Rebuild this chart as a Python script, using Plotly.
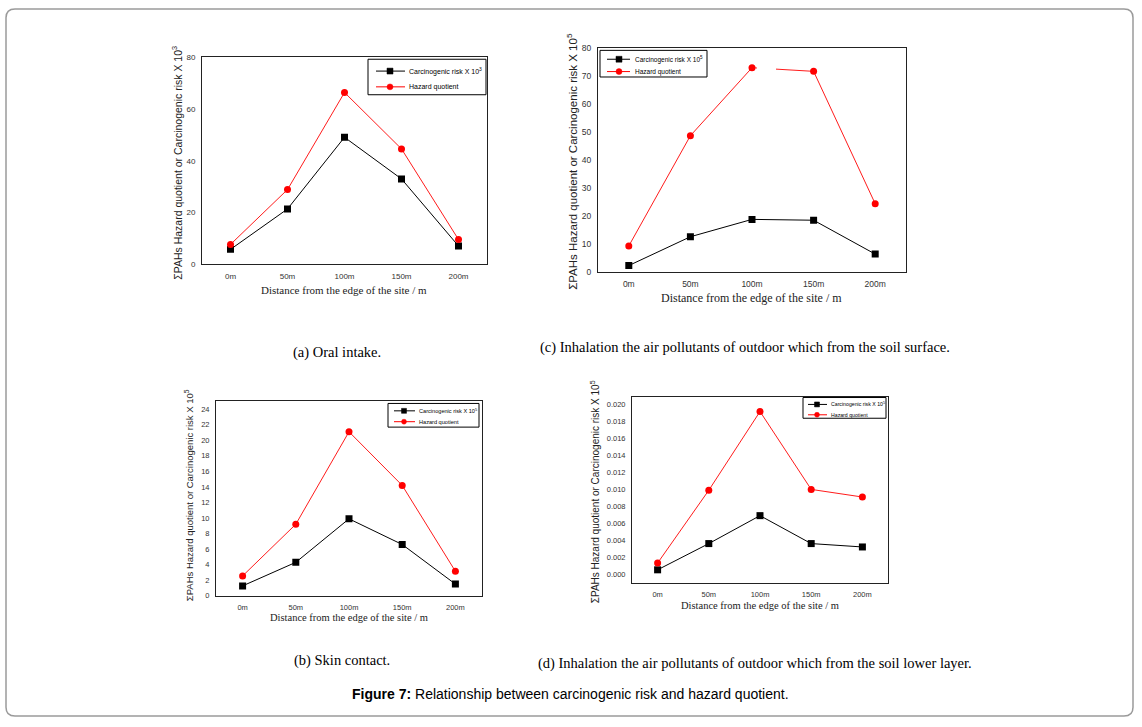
import plotly.graph_objects as go

W, H = 1142, 727

categories = ["0m", "50m", "100m", "150m", "200m"]

a_carc = [5.8, 21.4, 49.1, 33.0, 7.1]
a_hq = [7.7, 28.9, 66.4, 44.6, 9.6]
c_carc = [2.4, 12.7, 18.9, 18.6, 6.5]
c_hq = [9.4, 48.8, 73.1, 71.8, 24.5]
b_carc = [1.27, 4.3, 9.9, 6.6, 1.5]
b_hq = [2.55, 9.2, 21.1, 14.2, 3.15]
d_carc = [0.0005, 0.0036, 0.0069, 0.0036, 0.0032]
d_hq = [0.0013, 0.0099, 0.0192, 0.0100, 0.0091]

legend_a = ["Carcinogenic risk X 10<sup>3</sup>", "Hazard quotient"]
legend_c = ["Carcinogenic risk X 10<sup>5</sup>", "Hazard quotient"]
legend_b = ["Carcinogenic risk X 10<sup>5</sup>", "Hazard quotient"]
legend_d = ["Carcinogenic risk X 10<sup>5</sup>", "Hazard quotient"]

ytitle_a = "ΣPAHs Hazard quotient or Carcinogenic risk X 10<sup>3</sup>"
ytitle_c = "ΣPAHs Hazard quotient or Carcinogenic risk X 10<sup>5</sup>"
ytitle_b = "ΣPAHs Hazard quotient or Carcinogenic risk X 10<sup>5</sup>"
ytitle_d = "ΣPAHs Hazard quotient or Carcinogenic risk X 10<sup>5</sup>"
xtitle = "Distance from the edge of the site / m"

captions = [
    "(a) Oral intake.",
    "(c) Inhalation the air pollutants of outdoor which from the soil surface.",
    "(b) Skin contact.",
    "(d) Inhalation the air pollutants of outdoor which from the soil lower layer.",
]
fig_caption = "<b>Figure 7:</b> Relationship between carcinogenic risk and hazard quotient."

BLACK = "#000000"
RED = "#ff0000"


def px(x):
    return x / W


def py(y):
    return 1 - y / H


SANS = "Liberation Sans, Arial, sans-serif"
SERIF = "Liberation Serif, Times New Roman, serif"

fig = go.Figure()

# suffix, plot box px (x0,x1,y0,y1), series, yrange, dtick, tickformat, tick font size
panels = [
    ("", (202, 487, 53, 263), a_carc, a_hq, [0, 80], 20, None, 8),
    ("2", (598, 906, 44, 271), c_carc, c_hq, [0, 80], 10, None, 8.5),
    ("3", (216, 482, 402, 599), b_carc, b_hq, [0, 25], 2, None, 7.5),
    ("4", (632, 888, 397, 586), d_carc, d_hq, [-0.00105, 0.02097], 0.002, ".3f", 7.5),
]
legend_names = [legend_a, legend_c, legend_b, legend_d]

for (suf, (x0, x1, y0, y1), carc, hq, yr, dt, tf, tfs), names in zip(panels, legend_names):
    xa = "x" + suf
    ya = "y" + suf
    fig.add_trace(go.Scatter(
        x=categories, y=carc, mode="lines+markers", name=names[0],
        line=dict(color=BLACK, width=1),
        marker=dict(symbol="square", size=7, color=BLACK),
        xaxis=xa, yaxis=ya, showlegend=False,
    ))
    fig.add_trace(go.Scatter(
        x=categories, y=hq, mode="lines+markers", name=names[1],
        line=dict(color=RED, width=0.9),
        marker=dict(symbol="circle", size=7, color=RED),
        xaxis=xa, yaxis=ya, showlegend=False,
    ))
    axx = dict(
        domain=[px(x0), px(x1)], anchor=ya, type="category", range=[-0.5, 4.5],
        showline=True, mirror=True, linecolor="#222", linewidth=1,
        showgrid=False, zeroline=False, ticks="", ticklabelstandoff=4,
        tickfont=dict(family=SANS, size=tfs, color="#333"),
    )
    axy = dict(
        domain=[py(y1), py(y0)], anchor=xa, range=yr, dtick=dt, tick0=0,
        showline=True, mirror=True, linecolor="#222", linewidth=1,
        showgrid=False, zeroline=False, ticks="", ticklabelstandoff=4,
        tickfont=dict(family=SANS, size=tfs, color="#333"),
    )
    if tf:
        axy["tickformat"] = tf
    fig.layout["xaxis" + suf] = axx
    fig.layout["yaxis" + suf] = axy

annotations = []
shapes = []

# compact legends: box(x0,x1,y0,y1), row ys, line x0/x1, marker x, text x, font, marker size
legend_boxes = [
    ((368, 486, 55, 91), (67, 83), (376, 405), 390, 407, 7, 6),
    ((600, 707, 46, 73), (55, 67.5), (607, 630), 619, 633, 6.5, 6),
    ((388, 479, 404, 428), (411.5, 422.5), (394, 415), 404, 417, 5.6, 5),
    ((803, 886, 398, 419), (405, 415.5), (808, 827), 817, 829, 5.2, 5),
]
for (bx, rows, (lx0, lx1), mx, tx, fs, ms), names in zip(legend_boxes, legend_names):
    shapes.append(dict(type="rect", xref="paper", yref="paper",
                       x0=px(bx[0]), x1=px(bx[1]), y0=py(bx[3]), y1=py(bx[2]),
                       line=dict(color="#000", width=1), fillcolor="white", layer="above"))
    for i, (ry, col) in enumerate(zip(rows, [BLACK, RED])):
        shapes.append(dict(type="line", xref="paper", yref="paper",
                           x0=px(lx0), x1=px(lx1), y0=py(ry), y1=py(ry),
                           line=dict(color=col, width=1), layer="above"))
        h = ms / 2
        shapes.append(dict(type="rect" if i == 0 else "circle", xref="paper", yref="paper",
                           x0=px(mx - h), x1=px(mx + h), y0=py(ry + h), y1=py(ry - h),
                           line=dict(color=col, width=0.5), fillcolor=col, layer="above"))
        annotations.append(dict(
            x=px(tx), y=py(ry), xref="paper", yref="paper", text=names[i],
            showarrow=False, xanchor="left", yanchor="middle",
            font=dict(family=SANS, size=fs, color="#000"),
        ))

# y-axis titles: (x center, y center, font size, text)
ytitles = [
    (177, 160, 10.5, ytitle_a),
    (572, 159, 11.5, ytitle_c),
    (189, 497, 9.5, ytitle_b),
    (595, 494, 10, ytitle_d),
]
for x, y, s, t in ytitles:
    annotations.append(dict(
        x=px(x), y=py(y), xref="paper", yref="paper", text=t, textangle=-90,
        showarrow=False, xanchor="center", yanchor="middle",
        font=dict(family=SANS, size=s, color="#222"),
    ))
# x-axis titles
xtitles = [(344, 289, 11), (752, 297, 12), (349, 621, 10.5), (760, 609, 10.5)]
for x, y, s in xtitles:
    annotations.append(dict(
        x=px(x), y=py(y), xref="paper", yref="paper", text=xtitle,
        showarrow=False, xanchor="center", yanchor="middle",
        font=dict(family=SERIF, size=s, color="#222"),
    ))
# captions
cap_pos = [(337, 352), (745, 347), (342, 665), (755, 668)]
for (x, y), t in zip(cap_pos, captions):
    annotations.append(dict(
        x=px(x), y=py(y), xref="paper", yref="paper", text=t,
        showarrow=False, xanchor="center", yanchor="middle",
        font=dict(family=SERIF, size=14.5, color="#000"),
    ))
annotations.append(dict(
    x=px(570), y=py(699), xref="paper", yref="paper", text=fig_caption,
    showarrow=False, xanchor="center", yanchor="middle",
    font=dict(family=SANS, size=14, color="#000"),
))

# rounded border frame
bx0, by0, bx1, by1, r = 6, 4, 1133, 721, 9
rx, ry = r / W, r / H
X0, X1 = px(bx0), px(bx1)
Y0, Y1 = py(by1), py(by0)
path = (
    f"M {X0 + rx},{Y1} L {X1 - rx},{Y1} Q {X1},{Y1} {X1},{Y1 - ry} "
    f"L {X1},{Y0 + ry} Q {X1},{Y0} {X1 - rx},{Y0} "
    f"L {X0 + rx},{Y0} Q {X0},{Y0} {X0},{Y0 + ry} "
    f"L {X0},{Y1 - ry} Q {X0},{Y1} {X0 + rx},{Y1} Z"
)
shapes.append(dict(type="path", path=path, xref="paper", yref="paper",
                   line=dict(color="#9a9a9a", width=1.5), layer="below"))
# small gap visible in the red line of panel (c)
shapes.append(dict(type="rect", xref="x2", yref="y2", x0=2.08, x1=2.39, y0=71.0, y1=75.5,
                   fillcolor="white", line=dict(width=0), layer="above"))

fig.update_layout(
    width=W, height=H, margin=dict(l=0, r=0, t=0, b=0),
    paper_bgcolor="white", plot_bgcolor="white",
    showlegend=False, annotations=annotations, shapes=shapes,
)

fig.write_html(
    "out.html",
    config={"displayModeBar": False},
    post_script="document.body.style.margin='0';document.body.style.overflow='hidden';",
)
